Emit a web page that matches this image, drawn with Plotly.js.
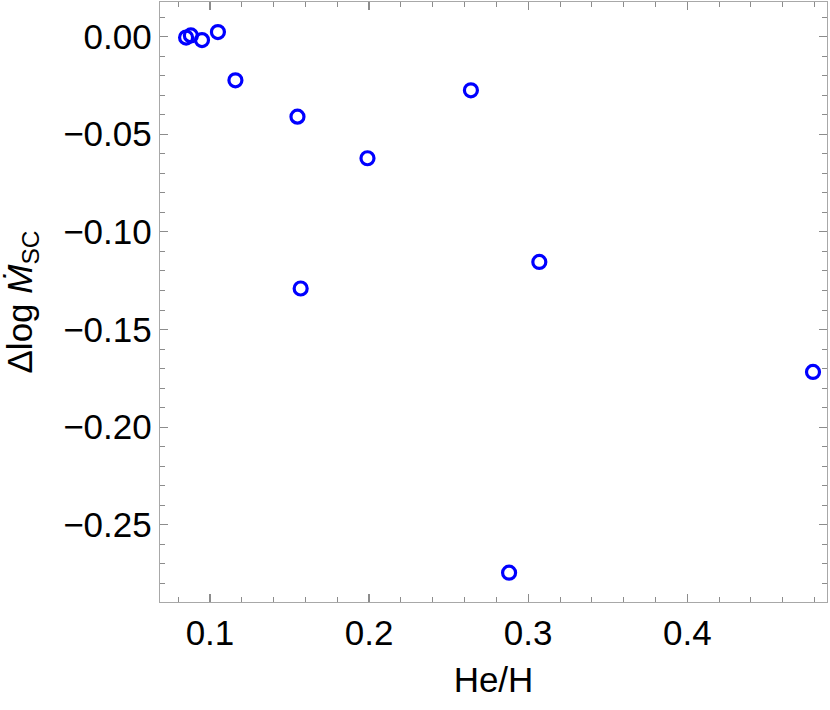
<!DOCTYPE html>
<html>
<head>
<meta charset="utf-8">
<script src="https://cdn.plot.ly/plotly-3.0.1.min.js"></script>
<style>
  body { margin: 0; background: #fff; }
  #chart { width: 830px; height: 710px; }
</style>
</head>
<body>
<div id="chart"></div>
<script>
// He/H ratio vs change in log mass-loss rate
var heH = [0.085, 0.088, 0.095, 0.105, 0.116, 0.155, 0.157, 0.199, 0.264, 0.288, 0.307, 0.479];
var dLogMdot = [-0.0005, 0.0006, -0.0018, 0.0023, -0.0224, -0.041, -0.129, -0.0623, -0.0275, -0.2745, -0.1154, -0.1717];

var CHART = document.getElementById('chart');

var trace1 = {
  x: heH,
  y: dLogMdot,
  type: 'scatter',
  mode: 'markers',
  marker: {symbol: 'circle-open', size: 13, color: '#0000ff', line: {width: 3.2, color: '#0000ff'}},
  hoverinfo: 'x+y'
};

var frameAxis = {
  showline: true, linecolor: '#a8a8a8', linewidth: 1.3,
  mirror: 'allticks', ticks: 'inside', ticklen: 8, tickwidth: 1.2, tickcolor: '#8c8c8c',
  showgrid: false, zeroline: false,
  tickfont: {family: 'Liberation Sans, Arial, sans-serif', size: 35, color: '#000'}
};

var layout = {
  width: 830, height: 710,
  margin: {l: 160, r: 3, t: 2, b: 108},
  paper_bgcolor: '#fff', plot_bgcolor: '#fff',
  showlegend: false,
  font: {family: 'Liberation Sans, Arial, sans-serif', size: 34, color: '#000'},
  xaxis: Object.assign({}, frameAxis, {
    range: [0.0686, 0.4878], tick0: 0, dtick: 0.1, tickformat: '.1f',
    minor: {ticks: 'inside', dtick: 0.02, tick0: 0, ticklen: 5, tickcolor: '#8c8c8c', tickwidth: 1},
    title: {text: 'He/H', font: {size: 35}, standoff: 16}
  }),
  yaxis: Object.assign({}, frameAxis, {
    range: [-0.2895, 0.0177], tick0: 0, dtick: 0.05, tickformat: '.2f',
    minor: {ticks: 'inside', dtick: 0.01, tick0: 0, ticklen: 5, tickcolor: '#8c8c8c', tickwidth: 1},
    title: {text: 'Δlog <i>M\u0307</i><sub>SC</sub>', font: {size: 35}, standoff: 30}
  })
};

Plotly.newPlot(CHART, [trace1], layout, {displayModeBar: false, staticPlot: true});
</script>
</body>
</html>
